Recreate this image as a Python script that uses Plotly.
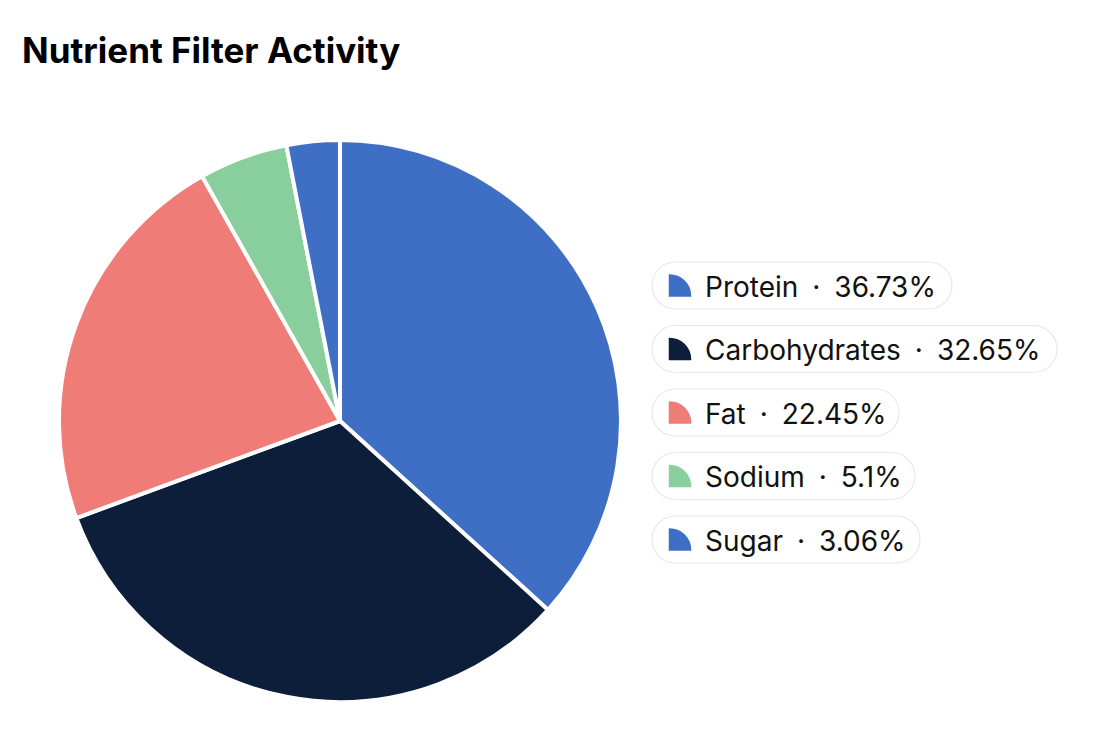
import plotly.graph_objects as go

# ---- data ----
categories = ["Protein", "Carbohydrates", "Fat", "Sodium", "Sugar"]
values = [36, 32, 22, 5, 3]
colors = ["#3F6FC4", "#0D1E3B", "#F07C78", "#89CF9D", "#3F6FC4"]
title_text = "Nutrient Filter Activity"

# ---- layout constants (pixels) ----
W, H = 1102, 736
pie_cx, pie_cy, pie_r = 340, 421, 281
leg_x0 = 652
leg_row0 = 285.5
leg_step = 63.5
pill_h = 47
pill_widths = [300, 405, 247, 263, 268]
font = "Inter, Noto Sans, sans-serif"


def px(x):
    return x / W


def py(y):
    return 1 - y / H


total = sum(values)
pcts = [round(v / total * 100, 2) for v in values]


def fmt(p):
    s = f"{p:.2f}".rstrip("0").rstrip(".")
    return s + "%"


fig = go.Figure()
fig.add_trace(go.Pie(
    labels=categories,
    values=values,
    sort=False,
    direction="clockwise",
    rotation=0,
    marker=dict(colors=colors, line=dict(color="white", width=4)),
    textinfo="none",
    showlegend=False,
    domain=dict(x=[px(pie_cx - pie_r), px(pie_cx + pie_r)],
                y=[py(pie_cy + pie_r), py(pie_cy - pie_r)]),
))

shapes = []
annotations = []


def rounded_rect(x0, y0, x1, y1, r):
    k = 0.5523 * r
    pts = [
        ("M", [(x0 + r, y0)]),
        ("L", [(x1 - r, y0)]),
        ("C", [(x1 - r + k, y0), (x1, y0 + r - k), (x1, y0 + r)]),
        ("L", [(x1, y1 - r)]),
        ("C", [(x1, y1 - r + k), (x1 - r + k, y1), (x1 - r, y1)]),
        ("L", [(x0 + r, y1)]),
        ("C", [(x0 + r - k, y1), (x0, y1 - r + k), (x0, y1 - r)]),
        ("L", [(x0, y0 + r)]),
        ("C", [(x0, y0 + r - k), (x0 + r - k, y0), (x0 + r, y0)]),
    ]
    d = ""
    for cmd, ps in pts:
        d += cmd + " " + " ".join(f"{px(a):.5f},{py(b):.5f}" for a, b in ps) + " "
    return d + "Z"


def quarter(cx, cy, r):
    k = 0.5523 * r
    d = (f"M {px(cx):.5f},{py(cy):.5f} L {px(cx):.5f},{py(cy - r):.5f} "
         f"C {px(cx + k):.5f},{py(cy - r):.5f} {px(cx + r):.5f},{py(cy - k):.5f} "
         f"{px(cx + r):.5f},{py(cy):.5f} Z")
    return d


for i, (cat, p, c) in enumerate(zip(categories, pcts, colors)):
    yc = leg_row0 + i * leg_step
    shapes.append(dict(
        type="path", xref="paper", yref="paper",
        path=rounded_rect(leg_x0, yc - pill_h / 2, leg_x0 + pill_widths[i], yc + pill_h / 2, pill_h / 2),
        line=dict(color="#E8E8E8", width=1.2), fillcolor="white", layer="below",
    ))
    shapes.append(dict(
        type="path", xref="paper", yref="paper",
        path=quarter(669.5, yc + 10.5, 21),
        line=dict(color=c, width=1.5), fillcolor=c,
    ))
    annotations.append(dict(
        x=px(703), y=py(yc + 1), xref="paper", yref="paper",
        xanchor="left", yanchor="middle", showarrow=False,
        text=f"{cat}\u2002·\u2002{fmt(p)}",
        font=dict(family=font, size=28, color="#111111"),
    ))

annotations.append(dict(
    x=px(20), y=py(50), xref="paper", yref="paper",
    xanchor="left", yanchor="middle", showarrow=False,
    text=f"<b>{title_text}</b>",
    font=dict(family=font, size=35, color="#000000"),
))

fig.update_layout(
    width=W, height=H,
    margin=dict(l=0, r=0, t=0, b=0),
    paper_bgcolor="white", plot_bgcolor="white",
    shapes=shapes, annotations=annotations,
)

fig.write_html("out.html", config={"displayModeBar": False},
               post_script="document.body.style.margin='0';document.body.style.overflow='hidden';")
